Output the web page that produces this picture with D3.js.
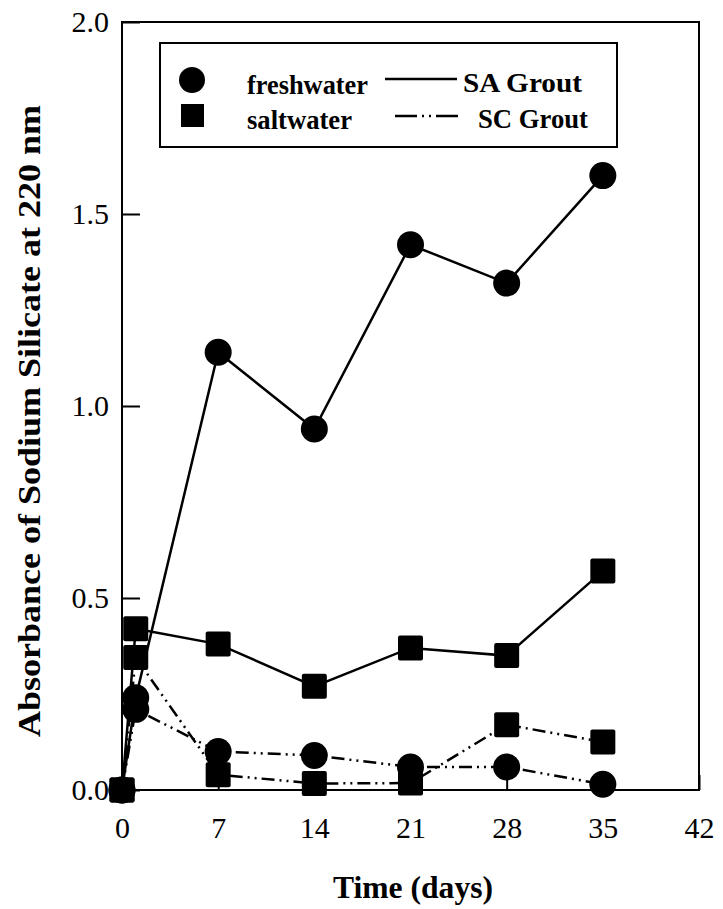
<!DOCTYPE html>
<html><head><meta charset="utf-8">
<script src="https://cdn.jsdelivr.net/npm/d3@7"></script>
<style>body{margin:0;background:#fff}</style>
</head><body>
<svg id="chart" width="723" height="909"></svg>
<script>
// ---- data ----
const days = [0, 1, 7, 14, 21, 28, 35];
const saFresh = [0, 0.24, 1.14, 0.94, 1.42, 1.32, 1.60];
const saSalt  = [0, 0.42, 0.38, 0.27, 0.37, 0.35, 0.57];
const scFresh = [0, 0.21, 0.10, 0.09, 0.06, 0.06, 0.015];
const scSalt  = [0, 0.345, 0.04, 0.017, 0.018, 0.17, 0.125];
const xTicks = [0, 7, 14, 21, 28, 35, 42];
const yTicks = [0.0, 0.5, 1.0, 1.5, 2.0];
const markerLegend = ["freshwater", "saltwater"];
const lineLegend = ["SA Grout", "SC Grout"];
const xTitle = "Time (days)";
const yTitle = "Absorbance of Sodium Silicate at 220 nm";

// ---- layout ----
const L = 122, R = 699, T = 22, B = 790;
const svg = d3.select("#chart");
const x = d3.scaleLinear().domain([0, 42]).range([L, R]);
const y = d3.scaleLinear().domain([0, 2.0]).range([B, T]);
const font = "'Liberation Serif','Times New Roman',serif";
const dashDot = "13,5,2,5,2,5";

// frame
svg.append("rect").attr("x", L).attr("y", T).attr("width", R - L).attr("height", B - T)
  .attr("fill", "none").attr("stroke", "#000").attr("stroke-width", 2);

// axes
const xAxis = d3.axisBottom(x).tickValues(xTicks).tickFormat(d3.format("d"))
  .tickSizeInner(-15).tickSizeOuter(0).tickPadding(27);
const gx = svg.append("g").attr("transform", `translate(0,${B})`).call(xAxis);
const yAxis = d3.axisLeft(y).tickValues(yTicks).tickFormat(d3.format(".1f"))
  .tickSizeInner(-18).tickSizeOuter(0).tickPadding(13);
const gy = svg.append("g").attr("transform", `translate(${L},0)`).call(yAxis);
[gx, gy].forEach(g => {
  g.select(".domain").remove();
  g.selectAll("line").attr("stroke", "#000").attr("stroke-width", 2);
  g.selectAll("text").attr("font-family", font).attr("font-size", 30).attr("fill", "#000");
});

// series
const series = [
  {vals: saFresh, marker: "circle", dash: null},
  {vals: saSalt, marker: "square", dash: null},
  {vals: scFresh, marker: "circle", dash: dashDot},
  {vals: scSalt, marker: "square", dash: dashDot}
];
const line = d3.line().x(d => x(d[0])).y(d => y(d[1]));
series.forEach(s => {
  const pts = days.map((d, i) => [d, s.vals[i]]);
  svg.append("path").datum(pts).attr("d", line).attr("fill", "none")
    .attr("stroke", "#000").attr("stroke-width", 2.5)
    .attr("stroke-dasharray", s.dash);
});
series.forEach(s => {
  const pts = days.map((d, i) => [d, s.vals[i]]);
  if (s.marker === "circle") {
    svg.append("g").selectAll("circle").data(pts).join("circle")
      .attr("cx", d => x(d[0])).attr("cy", d => y(d[1])).attr("r", 13.5).attr("fill", "#000");
  } else {
    svg.append("g").selectAll("rect").data(pts).join("rect")
      .attr("x", d => x(d[0]) - 12.5).attr("y", d => y(d[1]) - 12.5)
      .attr("width", 25).attr("height", 25).attr("rx", 2).attr("fill", "#000");
  }
});

// legend
const lg = svg.append("g");
lg.append("rect").attr("x", 160).attr("y", 43).attr("width", 457).attr("height", 104)
  .attr("fill", "#fff").attr("stroke", "#000").attr("stroke-width", 2);
lg.append("circle").attr("cx", 192).attr("cy", 80).attr("r", 13).attr("fill", "#000");
lg.append("rect").attr("x", 181).attr("y", 104).attr("width", 23).attr("height", 23).attr("fill", "#000");
const mlTxt = [{t: markerLegend[0], y: 94, w: 121}, {t: markerLegend[1], y: 129, w: 105}];
mlTxt.forEach(o => lg.append("text").attr("x", 247).attr("y", o.y).text(o.t)
  .attr("font-family", font).attr("font-weight", "bold").attr("font-size", 27)
  .attr("textLength", o.w).attr("lengthAdjust", "spacingAndGlyphs"));
lg.append("line").attr("x1", 385).attr("x2", 457).attr("y1", 79).attr("y2", 79)
  .attr("stroke", "#000").attr("stroke-width", 2.5);
lg.append("line").attr("x1", 395).attr("x2", 461).attr("y1", 116).attr("y2", 116)
  .attr("stroke", "#000").attr("stroke-width", 2.5).attr("stroke-dasharray", "22,5,2,5,2,5");
const llTxt = [{t: lineLegend[0], x: 463, y: 92, w: 119}, {t: lineLegend[1], x: 478, y: 128, w: 110}];
llTxt.forEach(o => lg.append("text").attr("x", o.x).attr("y", o.y).text(o.t)
  .attr("font-family", font).attr("font-weight", "bold").attr("font-size", 27)
  .attr("textLength", o.w).attr("lengthAdjust", "spacingAndGlyphs"));

// axis titles
svg.append("text").attr("x", 413).attr("y", 898).attr("text-anchor", "middle").text(xTitle)
  .attr("font-family", font).attr("font-weight", "bold").attr("font-size", 32)
  .attr("textLength", 160).attr("lengthAdjust", "spacingAndGlyphs");
svg.append("text").attr("transform", "translate(40,421) rotate(-90)").attr("text-anchor", "middle")
  .text(yTitle).attr("font-family", font).attr("font-weight", "bold").attr("font-size", 32)
  .attr("textLength", 632).attr("lengthAdjust", "spacingAndGlyphs");
</script>
</body></html>
